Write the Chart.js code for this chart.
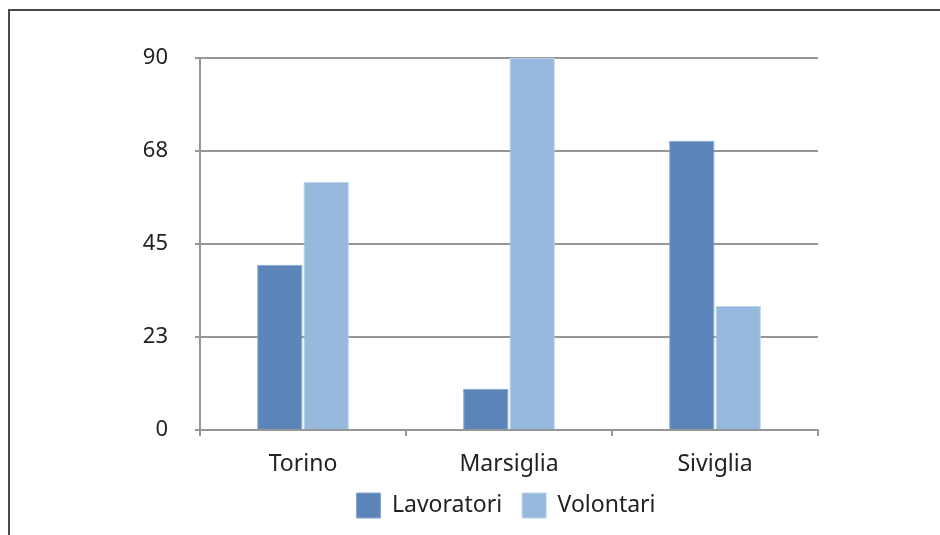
<!DOCTYPE html>
<html>
<head>
  <meta charset="utf-8">
  <title>Lavoratori e Volontari</title>
  <script src="https://cdn.jsdelivr.net/npm/chart.js"></script>
  <style>
    body {
      margin: 0;
      background: #fff;
      overflow: hidden;
    }
    .frame {
      position: absolute;
      left: 8px;
      top: 9px;
      width: 960px;
      height: 560px;
      border: 2px solid #4a4a4a;
    }
    #chart {
      position: absolute;
      left: 0;
      top: 0;
    }
  </style>
</head>
<body>
  <div class="frame"></div>
  <canvas id="chart" width="940" height="535"></canvas>

  <script>
    const cities = ['Torino', 'Marsiglia', 'Siviglia'];
    const lavoratori = [40, 10, 70];
    const volontari = [60, 90, 30];
    const yTicks = [0, 22.5, 45, 67.5, 90];

    const font = "'Noto Sans', sans-serif";

    // centre the legend under the plot area and pull it up a little
    const legendUnderPlot = {
      id: 'legendUnderPlot',
      afterLayout(chart) {
        const lg = chart.legend;
        const shift = (chart.chartArea.left + chart.chartArea.right) / 2 - (lg.left + lg.right) / 2 - 3;
        lg.left += shift;
        lg.right += shift;
        lg.top -= 7;
        lg.bottom -= 7;
      }
    };

    new Chart(document.getElementById('chart'), {
      type: 'bar',
      data: {
        labels: cities,
        datasets: [{
          label: 'Lavoratori',
          data: lavoratori,
          backgroundColor: '#5b84b8',
          borderColor: '#86a6d0',
          borderWidth: 1
        }, {
          label: 'Volontari',
          data: volontari,
          backgroundColor: '#95b8dc',
          borderColor: '#bcd3ec',
          borderWidth: 1
        }]
      },
      plugins: [legendUnderPlot],
      options: {
        responsive: false,
        animation: false,
        layout: {
          padding: { top: 58, right: 122, left: 0, bottom: 0 }
        },
        datasets: {
          bar: { categoryPercentage: 0.45, barPercentage: 0.98 }
        },
        plugins: {
          tooltip: { enabled: false },
          legend: {
            position: 'bottom',
            labels: {
              font: { family: font, size: 23 },
              color: '#222',
              boxWidth: 24,
              boxHeight: 25,
              padding: 20
            }
          }
        },
        scales: {
          x: {
            grid: {
              offset: true,
              drawOnChartArea: false,
              drawTicks: true,
              tickLength: 6,
              color: '#969696',
              lineWidth: 2
            },
            border: { color: '#969696', width: 2 },
            ticks: {
              font: { family: font, size: 23 },
              color: '#222',
              padding: 15
            },
            afterFit: s => { s.height = 50; }
          },
          y: {
            min: 0,
            max: 90,
            afterBuildTicks: s => { s.ticks = yTicks.map(v => ({ value: v })); },
            grid: {
              color: '#969696',
              lineWidth: 2,
              tickLength: 5
            },
            border: { color: '#969696', width: 2 },
            ticks: {
              font: { family: font, size: 22 },
              color: '#222',
              padding: 27,
              callback: v => Math.round(v)
            },
            afterFit: s => { s.width = 200; }
          }
        }
      }
    });
  </script>
</body>
</html>
